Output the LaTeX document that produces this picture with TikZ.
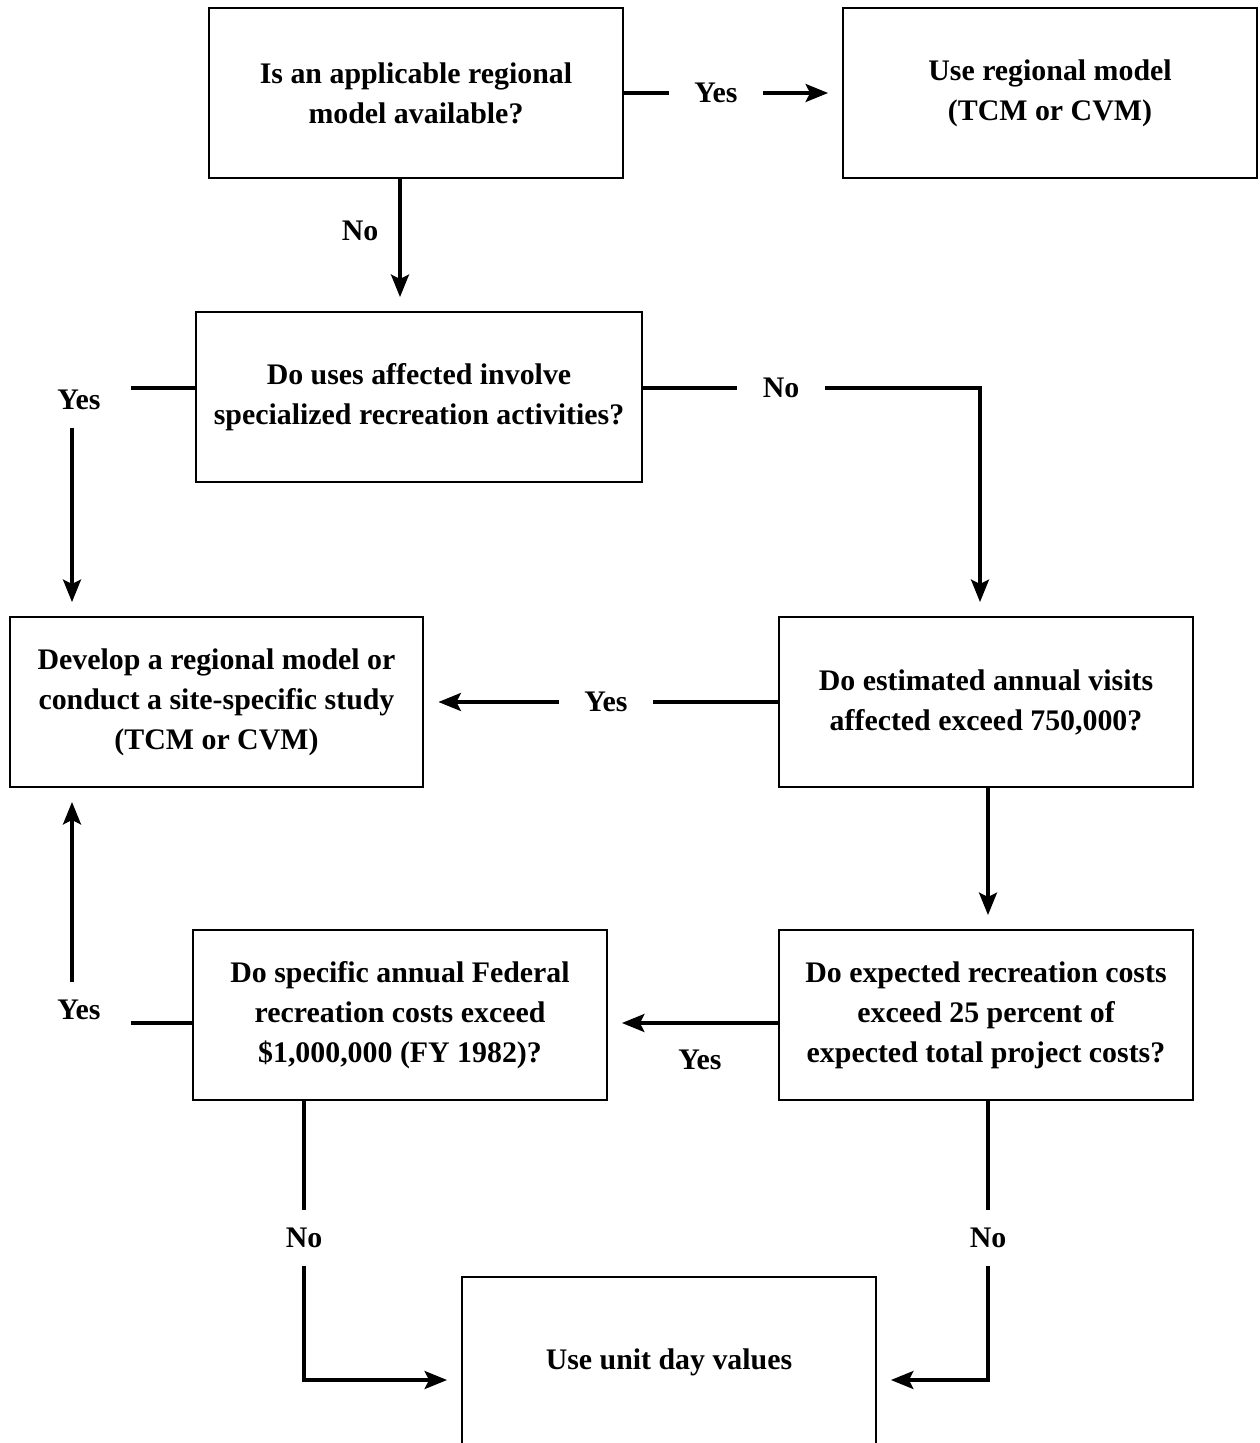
\documentclass[tikz,border=0pt]{standalone}
\usepackage{fontspec}
\setmainfont{Liberation Serif}
\usetikzlibrary{positioning, arrows.meta}
\tikzset{
    qbox/.style={draw, line width=1.1pt, minimum width=8.28cm, minimum height=3.4cm, inner sep=0pt, align=center, font=\fontsize{17}{22.8}\selectfont\bfseries},
    ans/.style={inner xsep=0.5cm, inner ysep=0.35cm, font=\fontsize{17}{22.8}\selectfont\bfseries},
    flow/.style={line width=1.9pt},
    flowarr/.style={flow, -{Stealth[length=4.5mm, width=3.6mm, inset=0.9mm]}, shorten >=0.28cm}
}

\begin{document}
\begin{tikzpicture}[x=0.02cm, y=-0.02cm]
    \useasboundingbox (0,0) rectangle (1259,1443);
    % Questions and outcomes
    \node[qbox] (avail) at (416,93) {Is an applicable regional\\model available?};
    \node[qbox] (usereg) at (1050,93) {Use regional model\\(TCM or CVM)};
    \node[qbox, minimum width=8.92cm] (special) at (419,397) {Do uses affected involve\\specialized recreation activities?};
    \node[qbox] (develop) at (216.5,702) {Develop a regional model or\\conduct a site-specific study\\(TCM or CVM)};
    \node[qbox] (visits) at (986,702) {Do estimated annual visits\\affected exceed 750,000?};
    \node[qbox] (costs) at (986,1015) {Do expected recreation costs\\exceed 25 percent of\\expected total project costs?};
    \node[qbox] (federal) at (400,1015) {Do specific annual Federal\\recreation costs exceed\\\$1,000,000 (FY 1982)?};
    \node[qbox] (unitday) at (669,1362) {Use unit day values};

    % Guide lines
    \coordinate (colA) at (400,0);
    \coordinate (colL) at (72,0);
    \coordinate (colR) at (980,0);
    \coordinate (jC) at (131,388);
    \coordinate (jG) at (131,1023);
    \coordinate (rowF) at (0,1023);
    \coordinate (rowH) at (0,1380);

    % Answers
    \node[ans] (yesA) at (716,93) {Yes};
    \node (noA) at (360,231) {\fontsize{17}{22.8}\selectfont\bfseries No};
    \node[ans] (yesC) at (79,400) {Yes};
    \node[ans] (noC) at (781,388) {No};
    \node[ans] (yesE) at (606,702) {Yes};
    \node (yesF) at (700,1060) {\fontsize{17}{22.8}\selectfont\bfseries Yes};
    \node[ans] (yesG) at (79,1010) {Yes};
    \node[ans] (noG) at (304,1238) {No};
    \node[ans] (noF) at (988,1238) {No};

    % Connectors
    \draw[flow] (avail.east |- yesA) -- (yesA);
    \draw[flowarr] (yesA) -- (usereg);
    \draw[flowarr] (avail.south -| colA) -- (special.north -| colA);
    \draw[flow] (special.west |- jC) -- (jC);
    \draw[flowarr] (yesC.south -| colL) -- (develop.north -| colL);
    \draw[flow] (special.east |- noC) -- (noC);
    \draw[flowarr] (noC.east) -| (visits.north -| colR);
    \draw[flow] (visits) -- (yesE);
    \draw[flowarr] (yesE) -- (develop);
    \draw[flowarr] ([xshift=0.04cm]visits.south) -- ([xshift=0.04cm]costs.north);
    \draw[flowarr] (costs.west |- rowF) -- (federal.east |- rowF);
    \draw[flow] (federal.west |- jG) -- (jG);
    \draw[flowarr] (yesG.north -| colL) -- (develop.south -| colL);
    \draw[flow] (federal.south -| noG) -- (noG);
    \draw[flowarr] (noG) |- (unitday.west |- rowH);
    \draw[flow] (costs.south -| noF) -- (noF);
    \draw[flowarr] (noF) |- (unitday.east |- rowH);
\end{tikzpicture}
\end{document}
